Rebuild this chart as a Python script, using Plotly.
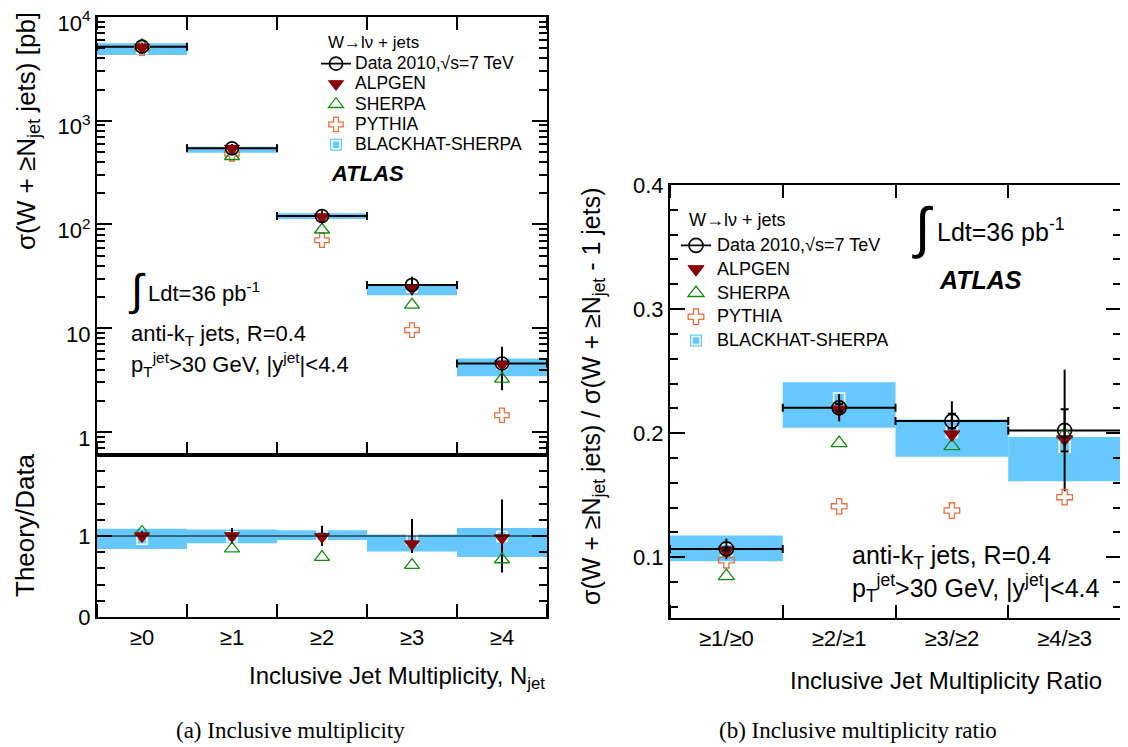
import plotly.graph_objects as go

# ---------------- data ----------------
cats = ["≥0", "≥1", "≥2", "≥3", "≥4"]
data_xs = [5180, 542, 120.5, 26.1, 4.58]
data_err = [470, 54, 15, 5.3, 2.05]
alpgen_xs = [5100, 540, 118, 24.2, 4.5]
sherpa_xs = [5330, 455, 89, 16.8, 3.25]
pythia_xs = [5000, 480, 70.6, 9.6, 1.45]
bh_xs = [4970, 537, 120, 24.8, 4.55]
bh_lo = [4300, 491, 113, 20.8, 3.45]
bh_hi = [5570, 561, 128, 25.5, 5.1]

ratio_ref = [1, 1, 1, 1, 1]
data_rel_err = [0.06, 0.10, 0.125, 0.21, 0.45]
alpgen_ratio = [1.0, 1.0, 0.99, 0.90, 0.975]
sherpa_ratio = [1.05, 0.845, 0.74, 0.64, 0.71]
bh_ratio = [0.96, 0.99, 1.0, 0.95, 0.995]
bh_ratio_lo = [0.84, 0.91, 0.95, 0.81, 0.74]
bh_ratio_hi = [1.09, 1.08, 1.07, 1.02, 1.10]

rcats = ["≥1/≥0", "≥2/≥1", "≥3/≥2", "≥4/≥3"]
r_data = [0.1067, 0.2204, 0.2097, 0.2022]
r_data_tot_err = [0.0083, 0.011, 0.016, 0.049]
r_data_stat_err = [0.0012, 0.003, 0.006, 0.017]
r_alpgen = [0.1054, 0.219, 0.199, 0.195]
r_sherpa = [0.0847, 0.192, 0.1895, 0.199]
r_pythia = [0.0976, 0.141, 0.1376, 0.1484]
r_bh = [0.106, 0.228, 0.201, 0.189]
r_bh_lo = [0.0968, 0.2043, 0.181, 0.1613]
r_bh_hi = [0.1175, 0.2411, 0.211, 0.1968]

legend_title = "W→lν + jets"
legend_names = ["Data 2010,√s=7 TeV", "ALPGEN", "SHERPA", "PYTHIA", "BLACKHAT-SHERPA"]

# ---------------- styles ----------------
# the page body adds an 8 px margin; the figure fills the rest of the window
OFF = 8
W, H = 1128 - OFF, 747 - OFF
FONT = "Liberation Sans"
BLUE = "#66c8fc"
RED = "#8b0000"
GREEN = "#138a13"
ORANGE = "#e07040"


def px(x):
    return (x - OFF) / W


def py(y):
    return 1 - (y - OFF) / H


xi = list(range(len(cats)))
rxi = list(range(len(rcats)))

fig = go.Figure()


def add_panel(xa, ya, xs, lo, hi, mk, data_y, data_e, alp, she, pyt, leg, msz, dxe=True, stat=None):
    show = leg is not None
    fig.add_trace(go.Bar(x=xs, y=[h - l for h, l in zip(hi, lo)], base=lo, width=1,
                         marker=dict(color=BLUE, line=dict(width=0)),
                         name=" ", xaxis=xa, yaxis=ya,
                         legend=leg, legendrank=5, showlegend=show, hoverinfo="skip"))
    fig.add_trace(go.Scatter(x=xs, y=mk, mode="markers",
                             marker=dict(symbol="square-open", size=msz - 3, color="white",
                                         line=dict(width=1.5, color="#eaf6ff")),
                             xaxis=xa, yaxis=ya, showlegend=False, hoverinfo="skip"))
    if data_y is not None:
        fig.add_trace(go.Scatter(x=xs, y=data_y, mode="markers",
                                 marker=dict(size=1, color="rgba(0,0,0,0)"),
                                 error_x=dict(type="data", array=[0.5] * len(xs), color="black",
                                              thickness=2, width=4) if dxe else None,
                                 error_y=dict(type="data", array=data_e, color="black",
                                              thickness=2, width=0),
                                 xaxis=xa, yaxis=ya, showlegend=False, hoverinfo="skip"))
    if pyt is not None:
        fig.add_trace(go.Scatter(x=xs, y=pyt, mode="markers", name=" ",
                                 marker=dict(symbol="cross-open", size=msz - 1, color=ORANGE,
                                             line=dict(width=1.3, color=ORANGE)),
                                 xaxis=xa, yaxis=ya, legend=leg, legendrank=4,
                                 showlegend=show))
    fig.add_trace(go.Scatter(x=xs, y=she, mode="markers", name=" ",
                             marker=dict(symbol="triangle-up-open", size=msz, color=GREEN,
                                         line=dict(width=1.3, color=GREEN)),
                             xaxis=xa, yaxis=ya, legend=leg, legendrank=3,
                             showlegend=show))
    fig.add_trace(go.Scatter(x=xs, y=alp, mode="markers", name=" ",
                             marker=dict(symbol="triangle-down", size=msz, color=RED,
                                         line=dict(width=1, color=RED)),
                             xaxis=xa, yaxis=ya, legend=leg, legendrank=2,
                             showlegend=show))
    if stat is not None:
        fig.add_trace(go.Scatter(x=xs, y=data_y, mode="markers",
                                 marker=dict(size=1, color="rgba(0,0,0,0)"),
                                 error_y=dict(type="data", array=stat, color="black",
                                              thickness=2, width=4),
                                 xaxis=xa, yaxis=ya, showlegend=False, hoverinfo="skip"))


def add_data(xa, ya, xs, ys, leg, msz):
    fig.add_trace(go.Scatter(x=xs, y=ys, mode="markers",
                             marker=dict(symbol="circle-open", size=msz, color="black",
                                         line=dict(width=1.6, color="black")),
                             xaxis=xa, yaxis=ya, showlegend=False))
    fig.add_trace(go.Scatter(x=[None], y=[None], mode="lines+markers", name=" ",
                             marker=dict(symbol="circle-open", size=msz, color="black",
                                         line=dict(width=1.6, color="black")),
                             line=dict(color="black", width=1.6),
                             xaxis=xa, yaxis=ya, legend=leg, legendrank=1))


def add_bh_key(xa, ya, leg):
    # white square drawn inside the blue legend key of BLACKHAT-SHERPA
    fig.add_trace(go.Scatter(x=[None], y=[None], mode="markers", name=" ",
                             marker=dict(symbol="square-open", size=8, color="white",
                                         line=dict(width=1.5, color="white")),
                             xaxis=xa, yaxis=ya, legend=leg))


# left main panel
add_panel("x", "y", xi, bh_lo, bh_hi, bh_xs, data_xs, data_err, alpgen_xs, sherpa_xs,
          pythia_xs, "legend", 13)
add_data("x", "y", xi, data_xs, "legend", 13)
add_bh_key("x", "y", "legend3")

# left ratio panel
add_panel("x2", "y2", xi, bh_ratio_lo, bh_ratio_hi, bh_ratio, ratio_ref, data_rel_err,
          alpgen_ratio, sherpa_ratio, None, None, 13, dxe=False)

# right panel
add_panel("x3", "y3", rxi, r_bh_lo, r_bh_hi, r_bh, r_data, r_data_tot_err, r_alpgen,
          r_sherpa, r_pythia, "legend2", 14, stat=r_data_stat_err)
add_data("x3", "y3", rxi, r_data, "legend2", 14)
add_bh_key("x3", "y3", "legend4")

# ---------------- axes ----------------
axline = dict(showline=True, linecolor="black", linewidth=2, showgrid=False,
              zeroline=False, automargin=False, ticklabeloverflow="allow")
tickfont = dict(family=FONT, size=22, color="black")
edge_minor = dict(ticks="inside", ticklen=13, tickwidth=1.5, tickcolor="black",
                  tick0=0.5, dtick=1, showgrid=False)

log_minor = [k * 10 ** d for d in range(-1, 4) for k in range(2, 10)]
log_minor = [v for v in log_minor if 0.6 <= v <= 1e4]

LEG1_FS, LEG2_FS = 13.3, 16
LEG1_STEP, LEG2_STEP = 20.3, 23.8


def leg(x, top, fs):
    return dict(x=px(x), y=py(top), xanchor="left", yanchor="top",
                bgcolor="rgba(0,0,0,0)", borderwidth=0, tracegroupgap=0,
                font=dict(family=FONT, size=fs, color="black"))


lx = [px(97), px(547)]
fig.update_layout(
    width=W, height=H, margin=dict(l=0, r=0, t=0, b=0, autoexpand=False),
    paper_bgcolor="white", plot_bgcolor="white",
    font=dict(family=FONT, color="black"),
    barmode="overlay",
    xaxis=dict(domain=lx, anchor="y", range=[-0.5, 4.5], showticklabels=False,
               ticks="", mirror="allticks", minor=edge_minor, **axline),
    yaxis=dict(domain=[py(455), py(17)], anchor="x", type="log",
               range=[-0.2218, 4],
               tickvals=[1, 10, 100, 1000, 10000],
               ticktext=["1", "10", "10<sup>2</sup>", "10<sup>3</sup>", "10<sup>4</sup>"],
               ticks="inside", ticklen=15, tickwidth=1.5, tickcolor="black",
               mirror="allticks", tickfont=tickfont, ticklabelshift=6,
               minor=dict(ticks="inside", ticklen=8, tickwidth=1.5, tickcolor="black",
                          tickvals=log_minor, showgrid=False),
               **axline),
    xaxis2=dict(domain=lx, anchor="y2", range=[-0.5, 4.5], matches="x",
                tickvals=xi, ticktext=cats, ticks="", mirror=True,
                tickfont=tickfont, minor=edge_minor, **axline),
    yaxis2=dict(domain=[py(617), py(455)], anchor="x2", range=[0, 2],
                tickvals=[0, 1], ticks="inside", ticklen=15, tickwidth=1.5,
                tickcolor="black", mirror="allticks", tickfont=tickfont,
                minor=dict(ticks="inside", ticklen=8, tickwidth=1.5, tickcolor="black",
                           tick0=0, dtick=0.2, showgrid=False),
                **axline),
    xaxis3=dict(domain=[px(670), px(1121)], anchor="y3", range=[-0.5, 3.5],
                tickvals=rxi, ticktext=rcats, ticks="", mirror="allticks",
                tickfont=tickfont, minor=edge_minor, **axline),
    yaxis3=dict(domain=[py(618), py(185)], anchor="x3", range=[0.051, 0.4],
                tickvals=[0.1, 0.2, 0.3, 0.4], ticks="inside", ticklen=15,
                tickwidth=1.5, tickcolor="black", mirror="allticks", tickfont=tickfont,
                minor=dict(ticks="inside", ticklen=8, tickwidth=1.5, tickcolor="black",
                           tick0=0, dtick=0.02, showgrid=False),
                **axline),
    legend=leg(316, 48.5, LEG1_FS),
    legend2=leg(676, 228.5, LEG2_FS),
    legend3=leg(316, 48.5 + 4 * LEG1_STEP, LEG1_FS),
    legend4=leg(676, 228.5 + 4 * LEG2_STEP, LEG2_FS),
)

fig.add_shape(type="line", xref="x2 domain", yref="y2", x0=0, x1=1, y0=1, y1=1,
              line=dict(color="black", width=1.2))


def ann(text, x, y, size, xanchor="left", yanchor="middle", angle=0, family=FONT):
    fig.add_annotation(text=text, x=px(x), y=py(y), xref="paper", yref="paper",
                       xanchor=xanchor, yanchor=yanchor, textangle=angle, showarrow=False,
                       font=dict(family=family, size=size, color="black"))


# legend texts
ann(legend_title, 326, 43, 17)
for i, nm in enumerate(legend_names):
    ann(nm, 353, 63 + LEG1_STEP * i, 17.5)
ann(legend_title, 687, 220, 18)
for i, nm in enumerate(legend_names):
    ann(nm, 715, 245 + LEG2_STEP * i, 18)

# left panel texts
ann("<b><i>ATLAS</i></b>", 329, 173, 22)
ann("∫", 137, 290, 44, xanchor="center")
ann("Ldt=36 pb<sup>-1</sup>", 146, 292, 22)
ann("anti-k<sub>T</sub> jets, R=0.4", 129, 335, 22)
ann("p<sub>T</sub><sup>jet</sup>>30 GeV, |y<sup>jet</sup>|&lt;4.4", 129, 364, 22)
ann("σ(W + ≥N<sub>jet</sub> jets) [pb]", 27, 131, 26, xanchor="center", angle=-90)
ann("Theory/Data", 25, 525, 26, xanchor="center", angle=-90)
ann("Inclusive Jet Multiplicity, N<sub>jet</sub>", 547, 677, 24, xanchor="right")

# right panel texts
ann("∫", 922, 227, 56, xanchor="center")
ann("Ldt=36 pb<sup>-1</sup>", 935, 230, 25)
ann("<b><i>ATLAS</i></b>", 937, 280, 25)
ann("anti-k<sub>T</sub> jets, R=0.4", 850, 557, 25)
ann("p<sub>T</sub><sup>jet</sup>>30 GeV, |y<sup>jet</sup>|&lt;4.4", 850, 588, 25)
ann("σ(W + ≥N<sub>jet</sub> jets) / σ(W + ≥N<sub>jet</sub> - 1 jets)", 593, 396, 25,
    xanchor="center", angle=-90)
ann("Inclusive Jet Multiplicity Ratio", 1104, 680, 24, xanchor="right")

# captions
ann("(a) Inclusive multiplicity", 290, 730, 23, xanchor="center", family="Liberation Serif")
ann("(b) Inclusive multiplicity ratio", 858, 730, 23, xanchor="center",
    family="Liberation Serif")

fig.write_html("out.html")
